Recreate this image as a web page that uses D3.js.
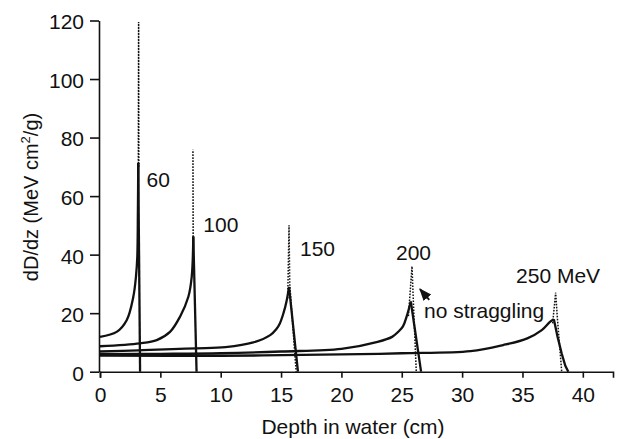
<!DOCTYPE html>
<html><head><meta charset="utf-8">
<script src="https://cdn.jsdelivr.net/npm/d3@7"></script>
<style>
html,body{margin:0;padding:0;background:#fff;}
text{font-family:"Liberation Sans",Arial,sans-serif;fill:#111;}
</style></head>
<body><svg id="c" width="619" height="439"></svg>
<script>
// ---- data (depth cm, dD/dz MeV cm^2/g) ----
const energies = ["60","100","150","200","250 MeV"];
const rise60  = [[0,11.9],[1.38,13.6],[2.21,17.6],[2.76,25.6],[2.98,32.5],[3.09,39.3],[3.14,55],[3.17,71.3]];
const fall60  = [[3.17,71.3],[3.32,0]];
const rise100 = [[0,8.7],[3.31,9.7],[4.7,10.8],[5.8,13.6],[6.63,18.8],[7.32,25.6],[7.6,32.5],[7.73,46.2]];
const fall100 = [[7.73,46.2],[8.0,0]];
const rise150 = [[0,6.9],[3.2,7.3],[6,7.7],[8,8.0],[10.4,8.4],[12.7,10],[14.1,12.5],[14.6,14.5],[14.9,16.5],[15.2,20],[15.45,24],[15.66,29]];
const fall150 = [[15.66,29],[16.4,0]];
const rise200 = [[0,6.0],[5,6.1],[10,6.3],[15,6.9],[20,7.8],[23,10.2],[24.2,11.9],[24.7,13.6],[25.1,15.5],[25.4,18.8],[25.75,24]];
const fall200 = [[25.75,24],[26.6,0]];
const rise250 = [[0,5.5],[10,5.45],[20,5.9],[25,6.3],[30.7,7.0],[33.4,9.1],[35.4,11.4],[36.6,14.2],[37.3,17.1],[37.6,17.9]];
const fall250 = [[37.6,17.9],[37.9,12],[38.25,6.2],[38.55,2],[38.8,0]];
// no-straggling peaks (dotted)
const ns60  = [[3.17,65],[3.2,119.5],[3.22,70]];
const ns100 = [[7.72,44],[7.7,75.8]];
const ns150 = [[15.55,25],[15.66,50],[15.72,30],[16.25,0]];
const ns200 = [[25.55,19],[25.85,36],[25.97,23],[26.2,0]];
const ns250 = [[37.5,16.5],[37.75,27],[37.9,17.9],[38.25,0]];
const xTicks = [0,5,10,15,20,25,30,35,40];
const yTicks = [0,20,40,60,80,100,120];

// ---- scales ----
const svg = d3.select("#c");
const x = d3.scaleLinear().domain([0,42.5]).range([100,613]);
const y = d3.scaleLinear().domain([0,120]).range([371.7,20.5]);

// axes
const gx = svg.append("g").attr("transform","translate(0,371.7)")
  .call(d3.axisBottom(x).tickValues(xTicks).tickSize(6).tickSizeOuter(6).tickPadding(9));
const gy = svg.append("g").attr("transform","translate(99,0)")
  .call(d3.axisLeft(y).tickValues(yTicks).tickSize(9).tickSizeOuter(0).tickPadding(6));
[gx,gy].forEach(g=>{
  g.selectAll("path,line").attr("stroke","#111").attr("stroke-width",1.6);
  g.selectAll("text").attr("font-size",21).attr("font-family","Liberation Sans, Arial, sans-serif").attr("fill","#111");
});
gy.selectAll("text").attr("dy","0.4em");

// curves
const smooth = d3.line().x(d=>x(d[0])).y(d=>y(d[1])).curve(d3.curveCatmullRom.alpha(0.5));
const straight = d3.line().x(d=>x(d[0])).y(d=>y(d[1]));
const solidRise = [rise60,rise100,rise150,rise200,rise250];
const solidFall = [fall60,fall100,fall150,fall200,fall250];
const dotted = [ns60,ns100,ns150,ns200,ns250];

svg.append("g").selectAll("path").data(dotted).join("path")
  .attr("d",straight).attr("fill","none").attr("stroke","#111")
  .attr("stroke-width",1.5).attr("stroke-dasharray","1.6,1.4");
svg.append("g").selectAll("path").data(solidRise).join("path")
  .attr("d",smooth).attr("fill","none").attr("stroke","#111").attr("stroke-width",2.3);
svg.append("g").selectAll("path").data(solidFall).join("path")
  .attr("d",straight).attr("fill","none").attr("stroke","#111").attr("stroke-width",2.3);

// annotations
const labelPos = [[3.86,63.0],[8.56,47.9],[16.57,39.4],[24.52,38.3],[34.47,30.4]];
svg.append("g").selectAll("text").data(energies).join("text")
  .attr("x",(d,i)=>x(labelPos[i][0])).attr("y",(d,i)=>y(labelPos[i][1]))
  .attr("font-size",21).text(d=>d);
svg.append("text").attr("x",x(26.84)).attr("y",y(18.4)).attr("font-size",21).text("no straggling");

// arrow
svg.append("defs").append("marker").attr("id","ah").attr("viewBox","0 0 10 10")
  .attr("refX",9).attr("refY",5).attr("markerWidth",7).attr("markerHeight",7)
  .attr("orient","auto").append("path").attr("d","M0,1 L10,5 L0,9 Z").attr("fill","#111");
svg.append("line").attr("x1",x(27.28)).attr("y1",y(24.55)).attr("x2",x(26.51)).attr("y2",y(28.2))
  .attr("stroke","#111").attr("stroke-width",1.8).attr("marker-end","url(#ah)");

// axis titles
svg.append("text").attr("x",353).attr("y",434).attr("text-anchor","middle").attr("font-size",21)
  .text("Depth in water (cm)");
const yt = svg.append("text").attr("transform","translate(38,197) rotate(-90)")
  .attr("text-anchor","middle").attr("font-size",20);
yt.append("tspan").text("dD/dz (MeV cm");
yt.append("tspan").attr("font-size",13).attr("dy",-8).text("2");
yt.append("tspan").attr("dy",8).text("/g)");
</script></body></html>
